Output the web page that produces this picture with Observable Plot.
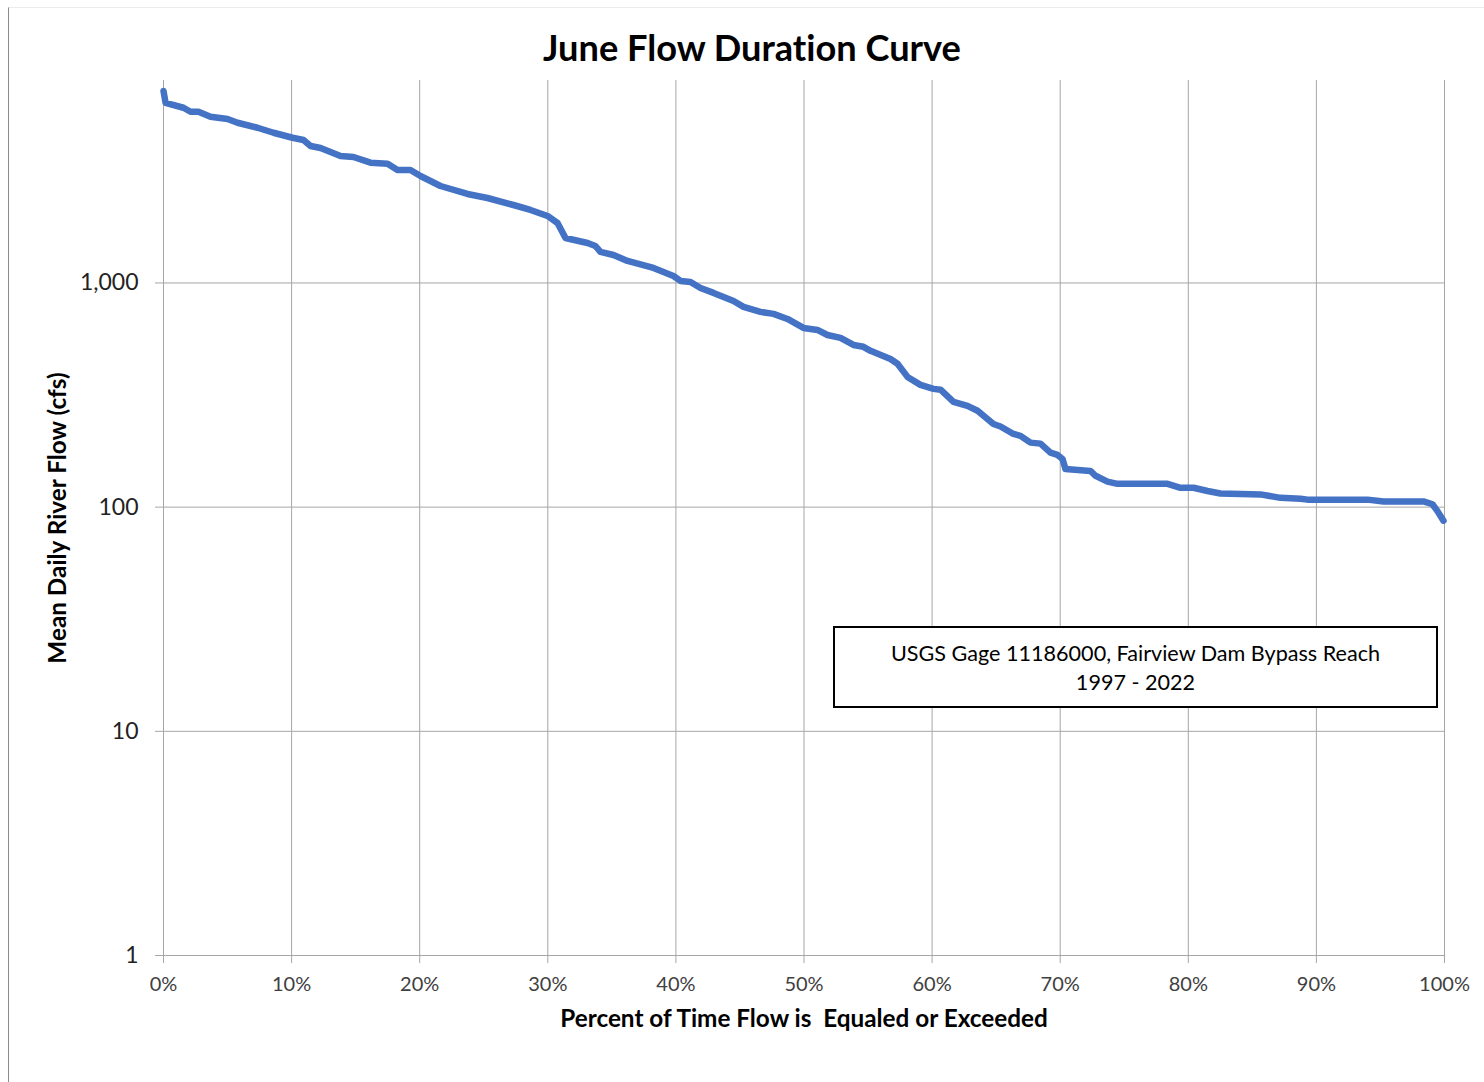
<!DOCTYPE html>
<html>
<head>
<meta charset="utf-8">
<script src="https://cdn.jsdelivr.net/npm/d3@7"></script>
<script src="https://cdn.jsdelivr.net/npm/@observablehq/plot@0.6"></script>
<style>
  html, body { margin: 0; padding: 0; background: #fff; }
  #wrap { position: relative; width: 1484px; height: 1082px; overflow: hidden; font-family: Lato, "Open Sans", sans-serif; font-variant-ligatures: none; }
  #frame { position: absolute; left: 8px; top: 7px; width: 1476px; height: 1075px; border-left: 1.5px solid #8c8c8c; border-top: 1px solid #ececec; box-sizing: border-box; pointer-events: none; }
  #title { position: relative; height: 70px; text-align: center; font-weight: 700; font-size: 36.2px; line-height: 36px; padding-top: 29px; padding-left: 20px; box-sizing: border-box; color: #000; }
  #note { position: absolute; left: 833px; top: 626px; width: 605px; height: 82px; border: 2px solid #000; box-sizing: border-box; background: #fff; text-align: center; font-size: 21.6px; line-height: 29px; padding-top: 11px; color: #000; }
  svg text { white-space: pre; font-variant-ligatures: none; }
</style>
</head>
<body>
<div id="wrap">
  <div id="frame"></div>
  <div id="title">June Flow Duration Curve</div>
  <div id="chart"></div>
  <div id="note">USGS Gage 11186000, Fairview Dam Bypass Reach<br>1997 - 2022</div>
</div>
<script>
// Percent of time flow is equaled or exceeded
const pct = [
  0, 0.16, 1.56, 2.11, 2.73, 3.67, 5.0, 5.78, 7.34, 8.59,
  10.07, 10.93, 11.48, 12.26, 13.82, 14.83, 16.16, 17.49, 18.27, 19.28,
  20.06, 21.62, 23.73, 25.29, 27.32, 28.65, 29.98, 30.76, 31.38, 33.1,
  33.72, 34.11, 35.13, 36.22, 38.25, 39.81, 40.36, 41.14, 41.92, 42.94,
  44.5, 45.28, 46.6, 47.62, 48.71, 49.96, 51.05, 51.83, 52.85, 53.86,
  54.64, 55.19, 56.75, 57.3, 58.08, 59.09, 60.11, 60.66, 61.67, 62.76,
  63.55, 64.79, 65.34, 66.35, 66.9, 67.68, 68.46, 69.24, 69.79, 70.18,
  70.41, 72.36, 72.76, 73.69, 74.47, 78.38, 79.39, 80.41, 81.5, 82.51,
  85.64, 87.2, 88.76, 89.3, 93.99, 95.24, 98.36, 99.06, 99.45, 99.92
];
// Mean daily river flow (cfs)
const flow = [
  7180, 6365, 6047, 5803, 5803, 5513, 5384, 5183, 4923, 4677,
  4443, 4340, 4081, 3998, 3684, 3646, 3439, 3404, 3189, 3189,
  2999, 2707, 2494, 2393, 2227, 2116, 1990, 1851, 1587, 1508,
  1462, 1375, 1333, 1254, 1167, 1074, 1021, 1010, 950, 903,
  831, 782, 743, 728, 691, 630, 617, 586, 569, 529,
  519, 498, 458, 436, 381, 351, 337, 334, 295, 283,
  269, 235, 229, 212, 208, 194, 192, 175, 171, 164,
  148, 145, 138, 130, 127, 127, 122, 122, 118, 115,
  114, 110, 109, 108, 108, 106, 106, 103, 96, 87
];
const xTicks = [0, 10, 20, 30, 40, 50, 60, 70, 80, 90, 100];
const yTicks = [1, 10, 100, 1000];
const xLabel = "Percent of Time Flow is  Equaled or Exceeded";
const yLabel = "Mean Daily River Flow (cfs)";

const data = pct.map((p, i) => ({pct: p, flow: flow[i]}));
const gridColor = "#a6a6a6";

const chart = Plot.plot({
  width: 1484,
  height: 1012,
  marginLeft: 163,
  marginRight: 40,
  marginTop: 10,
  marginBottom: 127,
  style: {fontFamily: "Lato, 'Open Sans', sans-serif", fontSize: "20px", color: "#404040", background: "#fff", overflow: "visible"},
  x: {domain: [0, 100], ticks: xTicks},
  y: {type: "log", domain: [1, 8000], ticks: yTicks},
  marks: [
    Plot.gridX(xTicks, {stroke: gridColor, strokeOpacity: 1, strokeWidth: 1}),
    Plot.gridY(yTicks, {stroke: gridColor, strokeOpacity: 1, strokeWidth: 1}),
    Plot.axisX(xTicks, {
      tickSize: 8, tickPadding: 13, stroke: gridColor, fill: "#404040",
      tickFormat: d => d + "%", fontSize: 20,
      label: xLabel, labelAnchor: "center", labelOffset: 71, labelArrow: "none"
    }),
    Plot.axisY(yTicks, {
      tickSize: 8, tickPadding: 17, stroke: gridColor, fill: "#222",
      tickFormat: d3.format(","), fontSize: 23,
      label: yLabel, labelAnchor: "center", labelOffset: 115, labelArrow: "none"
    }),
    Plot.line(data, {x: "pct", y: "flow", stroke: "#4472C4", strokeWidth: 6.5, strokeLinejoin: "round", strokeLinecap: "round"})
  ]
});
document.getElementById("chart").appendChild(chart);
// Bold, black axis titles without arrows
chart.querySelectorAll("g[aria-label='x-axis label'] text").forEach(t => { t.textContent = xLabel; });
chart.querySelectorAll("g[aria-label='y-axis label'] text").forEach(t => { t.textContent = yLabel; });
chart.querySelectorAll("g[aria-label='x-axis label'] text, g[aria-label='y-axis label'] text").forEach(t => {
  t.setAttribute("font-weight", "700");
  t.setAttribute("fill", "#000");
  t.setAttribute("font-size", "24.3");
});
</script>
</body>
</html>
